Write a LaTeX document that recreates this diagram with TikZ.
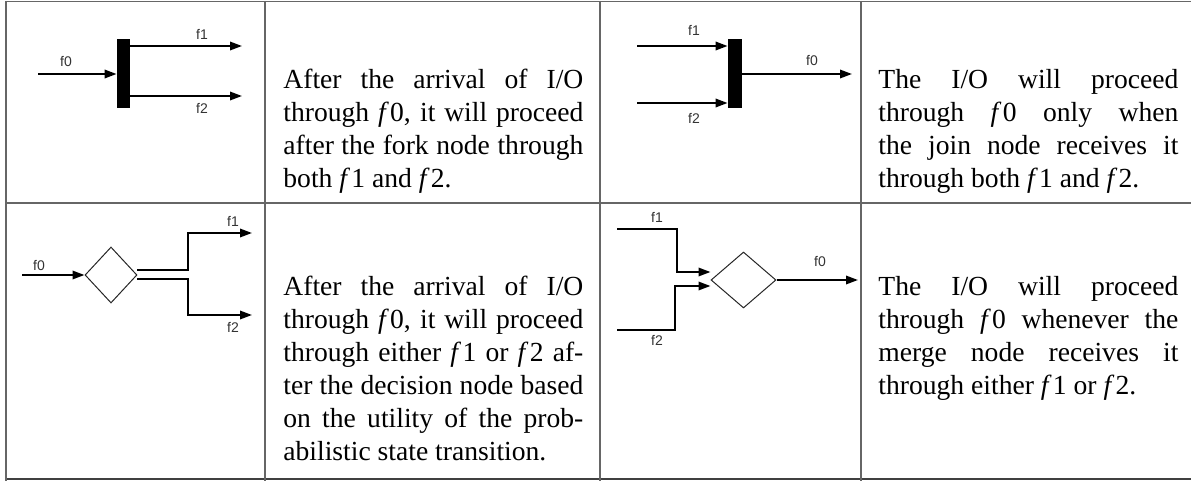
\documentclass[tikz,border=0pt]{standalone}
\usepackage{fontspec}
\setmainfont{Liberation Serif}
\newfontfamily\labfont{Liberation Sans}
\usetikzlibrary{arrows.meta,shapes.geometric,calc}
\newcommand{\fv}[1]{\textit{f}\kern0.6pt#1}
\hbadness=10000
\tikzset{
  rule/.style={draw=black!60, line width=0.75pt},
  arr/.style={line width=1pt, -{Triangle[length=6pt,width=4.2pt]}},
  bar/.style={fill=black, draw=none, inner sep=0pt},
  dia/.style={diamond, draw=black!85, line width=0.5pt, inner sep=0pt, aspect=1},
  lab/.style={font=\labfont\fontsize{7}{8}\selectfont, text=black!80, inner sep=0pt},
  cell/.style={inner sep=0pt, anchor=base west}
}
\newcommand{\celltext}[1]{\parbox[t]{150pt}{\fontsize{13.8}{16.5}\selectfont\parindent0pt\raggedright\rightskip0pt plus 0pt\leftskip0pt\parfillskip0pt plus 1fil #1}}
\begin{document}
\begin{tikzpicture}[x=0.5pt,y=-0.5pt]
\useasboundingbox (0,0) rectangle (1191,481);
% table rules
\coordinate (tl) at (6,1.5);
\coordinate (tr) at (1191,1.5);
\coordinate (ml) at (6,203);
\coordinate (mr) at (1191,203);
\coordinate (bl) at (6,479);
\coordinate (br) at (1191,479);
\draw[rule] (tl) -- (tr);
\draw[rule] (ml) -- (mr);
\draw[rule, draw=black!75, line width=1pt] (bl) -- (br);
\coordinate (c1t) at (6,1); \coordinate (c1b) at (6,481);
\coordinate (c2t) at (265,1); \coordinate (c2b) at (265,481);
\coordinate (c3t) at (600,1); \coordinate (c3b) at (600,481);
\coordinate (c4t) at (861,1); \coordinate (c4b) at (861,481);
\draw[rule] (c1t) -- (c1b);
\draw[rule] (c2t) -- (c2b);
\draw[rule] (c3t) -- (c3b);
\draw[rule] (c4t) -- (c4b);

% ---- fork (cell 1)
\node[bar, minimum width=6.5pt, minimum height=34.5pt] (fork) at (123.5,73.5) {};
\coordinate (fk0) at (38,74);
\coordinate (fk1) at (242,46);
\coordinate (fk2) at (242,96);
\draw[arr] (fk0) -- (fk0 -| fork.west);
\draw[arr] (fk1 -| fork.east) -- (fk1);
\draw[arr] (fk2 -| fork.east) -- (fk2);
\node[lab] (lfk0) at (66,62) {f0};
\node[lab] (lfk1) at (202,34) {f1};
\node[lab] (lfk2) at (202,108) {f2};

% ---- join (cell 3)
\node[bar, minimum width=7pt, minimum height=34.5pt] (join) at (735,73.5) {};
\coordinate (jn1) at (637,46);
\coordinate (jn2) at (637,103);
\coordinate (jn0) at (852,74);
\draw[arr] (jn1) -- (jn1 -| join.west);
\draw[arr] (jn2) -- (jn2 -| join.west);
\draw[arr] (jn0 -| join.east) -- (jn0);
\node[lab] (ljn1) at (694,30) {f1};
\node[lab] (ljn2) at (694,118) {f2};
\node[lab] (ljn0) at (812,61) {f0};

% ---- decision (cell 1, row 2)
\node[dia, minimum width=26pt, minimum height=28pt] (dec) at (111,275) {};
\coordinate (dc0) at (22,275);
\coordinate (dcu) at (137,270.5);
\coordinate (dcl) at (137,279.5);
\coordinate (dc1) at (252,233);
\coordinate (dc2) at (252,315);
\draw[arr] (dc0) -- (dec.west);
\draw[arr] (dcu) -| (188,233) -- (dc1);
\draw[arr] (dcl) -| (188,315) -- (dc2);
\node[lab] (ldc0) at (39,266) {f0};
\node[lab] (ldc1) at (233,221) {f1};
\node[lab] (ldc2) at (233,327) {f2};

% ---- merge (cell 3, row 2)
\node[dia, minimum width=32.5pt, minimum height=28pt] (mrg) at (743.5,280) {};
\coordinate (mg1) at (617,229);
\coordinate (mg2) at (617,330);
\coordinate (mg0) at (858,280);
\draw[arr] (mg1) -| (677,272) -- ($(mrg.west)+(0,-8)$);
\draw[arr] (mg2) -| (675,286) -- ($(mrg.west)+(0,6)$);
\draw[arr] (mrg.east) -- (mg0);
\node[lab] (lmg1) at (657,217) {f1};
\node[lab] (lmg2) at (657,340) {f2};
\node[lab] (lmg0) at (820,262) {f0};

% ---- texts
\node[cell] (t1) at (283,89) {\celltext{After the arrival of I/O\linebreak through \fv{0}, it will proceed\linebreak after the fork node through\linebreak both \fv{1} and \fv{2}.}};
\node[cell] (t2) at (878,89) {\celltext{The I/O will proceed\linebreak through \fv{0} only when\linebreak the join node receives it\linebreak through both \fv{1} and \fv{2}.}};
\node[cell] (t3) at (283,296) {\celltext{After the arrival of I/O\linebreak through \fv{0}, it will proceed\linebreak through either \fv{1} or \fv{2} af-\linebreak ter the decision node based\linebreak on the utility of the prob-\linebreak abilistic state transition.}};
\node[cell] (t4) at (878,296) {\celltext{The I/O will proceed\linebreak through \fv{0} whenever the\linebreak merge node receives it\linebreak through either \fv{1} or \fv{2}.}};
\end{tikzpicture}
\end{document}
